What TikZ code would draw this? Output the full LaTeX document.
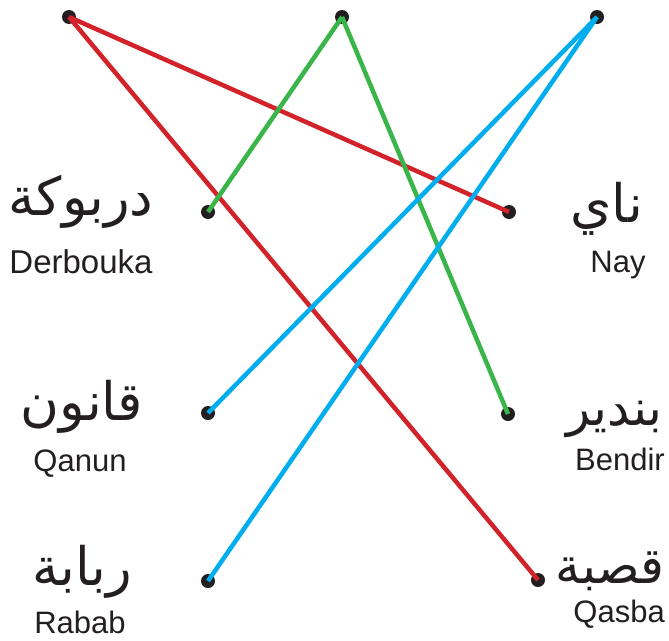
\documentclass[tikz,border=0pt]{standalone}
\usepackage{fontspec}
\setmainfont{Liberation Sans}
\newfontfamily\arabicfont[Script=Arabic]{DejaVu Sans}
\TeXXeTstate=1
\definecolor{ink}{HTML}{231F20}
\definecolor{lred}{HTML}{D2232A}
\definecolor{lgreen}{HTML}{39B54A}
\definecolor{lblue}{HTML}{00AEEF}
\tikzset{
  dotnode/.style={circle,fill=ink,inner sep=0pt,minimum size=14pt},
  ar/.style={anchor=base,inner sep=0pt,text=ink,font=\arabicfont\fontsize{53}{53}\selectfont},
  arsm/.style={ar,font=\arabicfont\fontsize{50}{50}\selectfont},
  lat/.style={anchor=base,inner sep=0pt,text=ink,font=\fontsize{31}{31}\selectfont},
  link/.style={line width=4.5pt}
}
\begin{document}
\begin{tikzpicture}[x=1pt,y=-1pt]
\useasboundingbox (0,0) rectangle (669,640);
% dots
\node[dotnode] (t1) at (69,17) {};
\node[dotnode] (t2) at (342,17) {};
\node[dotnode] (t3) at (597,17) {};
\node[dotnode] (l1) at (208,212) {};
\node[dotnode] (l2) at (208,413) {};
\node[dotnode] (l3) at (208,581) {};
\node[dotnode] (r1) at (509,212) {};
\node[dotnode] (r2) at (508,414) {};
\node[dotnode] (r3) at (538,580) {};
% labels
\node[ar] (a1) at (81,215) {\beginR دربوكة\endR};
\node[lat,font=\fontsize{33}{33}\selectfont] (e1) at (81,273) {Derbouka};
\node[ar] (a2) at (82,420) {\beginR قانون\endR};
\node[lat] (e2) at (80,471) {Qanun};
\node[ar] (a3) at (82,585) {\beginR ربابة\endR};
\node[lat] (e3) at (80,633) {Rabab};
\node[ar,anchor=base east] (a4) at (643,222) {\beginR ناي\endR};
\node[lat] (e4) at (618,272) {Nay};
\node[arsm,anchor=base east] (a5) at (663,425) {\beginR بندير\endR};
\node[lat,anchor=base east] (e5) at (665,470) {Bendir};
\node[arsm,anchor=base east] (a6) at (665,583) {\beginR قصبة\endR};
\node[lat,anchor=base east] (e6) at (665,622) {Qasba};
% connectors
\draw[link,lred] (t1.center) -- (r1.center);
\draw[link,lred] (t1.center) -- (r3.center);
\draw[link,lgreen] (t2.center) -- (l1.center);
\draw[link,lgreen] (t2.center) -- (r2.center);
\draw[link,lblue] (t3.center) -- (l2.center);
\draw[link,lblue] (t3.center) -- (l3.center);
\end{tikzpicture}
\end{document}
